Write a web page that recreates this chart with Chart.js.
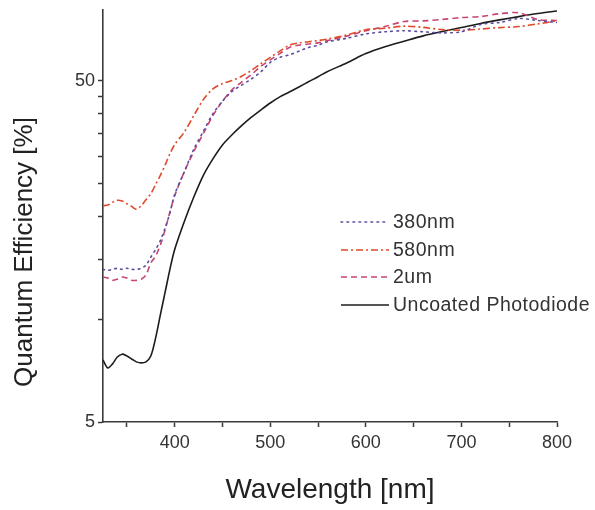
<!DOCTYPE html>
<html>
<head>
<meta charset="utf-8">
<script src="https://cdn.jsdelivr.net/npm/chart.js@4"></script>
<style>
  html, body { margin: 0; padding: 0; background: #fff; }
  #wrap { width: 595px; height: 510px; }
</style>
</head>
<body>
<div id="wrap"><canvas id="qeChart" width="595" height="510"></canvas></div>
<script>
// Wavelength grid [nm]
const wavelengths = [325, 330, 335, 340, 345, 350, 355, 360, 365, 370, 375, 380, 385, 390, 395, 400,
  410, 420, 430, 440, 450, 460, 470, 480, 490, 500, 510, 520, 530, 540, 550, 560,
  580, 600, 620, 640, 660, 680, 700, 720, 740, 760, 780, 800]

// Quantum efficiency [%] per coating
const qe380nm = [14.0, 13.9, 14.0, 14.1, 14.0, 14.1, 14.0, 14.0, 14.1, 14.4, 15.2, 16.0, 17.0, 18.5, 20.5, 23.2,
  27.0, 31.5, 35.5, 40.0, 43.5, 46.5, 48.5, 50.5, 53.0, 56.5, 58.5, 59.5, 61.0, 62.5, 63.5, 65.0,
  66.5, 68.5, 69.5, 70.0, 69.5, 69.0, 69.5, 73.0, 74.0, 76.0, 75.0, 74.0]
const qe580nm = [21.5, 21.6, 22.0, 22.3, 22.2, 21.8, 21.4, 21.0, 21.5, 22.4, 23.3, 24.8, 26.4, 28.3, 30.5, 32.5,
  35.3, 39.5, 44.0, 47.3, 49.0, 50.0, 51.5, 53.5, 56.0, 58.5, 61.0, 63.5, 64.5, 65.0, 65.5, 66.2,
  68.0, 70.5, 71.2, 72.2, 71.6, 70.5, 70.2, 70.8, 71.5, 72.0, 73.3, 74.8]
const qe2um = [13.3, 13.2, 13.0, 13.1, 13.3, 13.2, 13.0, 13.0, 13.1, 13.5, 14.6, 15.3, 16.5, 18.3, 20.6, 23.0,
  27.0, 31.0, 35.0, 39.5, 43.5, 47.0, 49.5, 52.0, 55.0, 57.5, 60.0, 62.5, 63.5, 64.0, 64.5, 65.5,
  67.5, 70.0, 72.0, 74.5, 74.8, 75.5, 76.5, 77.0, 78.5, 79.0, 75.5, 75.0]
const qeUncoated = [7.6, 7.2, 7.4, 7.75, 7.9, 7.8, 7.65, 7.5, 7.45, 7.5, 7.8, 8.8, 10.3, 12.0, 14.0, 16.0,
  19.3, 22.8, 26.4, 29.5, 32.4, 34.7, 36.9, 39.0, 41.0, 43.0, 44.8, 46.3, 47.9, 49.6, 51.3, 53.2,
  56.3, 60.0, 62.8, 65.2, 67.6, 69.6, 71.5, 73.5, 75.3, 77.0, 78.6, 80.0]

const seriesNames = ["380nm", "580nm", "2um", "Uncoated Photodiode"]

// Axis ticks
const xTicks = [350, 400, 450, 500, 550, 600, 650, 700, 750, 800]
const xLabelTicks = [400, 500, 600, 700, 800]
const yTicks = [5, 10, 15, 20, 25, 30, 35, 40, 45, 50]
const yLabelTicks = [5, 50]

const FONT = "'Liberation Sans', Arial, sans-serif"
const AXIS_COLOR = "#3a3a3a"

function toPoints(values) {
  return wavelengths.map((w, i) => ({ x: w, y: values[i] }))
}

// Legend drawn inside the plot, to the right
const insideLegend = {
  id: "insideLegend",
  afterDraw(chart) {
    const ctx = chart.ctx
    const rows = [222, 250, 277, 305]
    ctx.save()
    chart.data.datasets.forEach((ds, i) => {
      const y = rows[i]
      ctx.beginPath()
      ctx.setLineDash(ds.borderDash || [])
      ctx.lineCap = ds.borderCapStyle || "butt"
      ctx.strokeStyle = ds.borderColor
      ctx.lineWidth = ds.borderWidth
      ctx.moveTo(341, y)
      ctx.lineTo(389, y)
      ctx.stroke()
      ctx.setLineDash([])
      ctx.fillStyle = "#333"
      ctx.font = "19.5px " + FONT
      ctx.letterSpacing = "0.5px"
      ctx.textBaseline = "middle"
      ctx.textAlign = "left"
      ctx.fillText(ds.label, 393, y + 1)
    })
    ctx.restore()
  },
}

// Y axis title, set a little below the middle of the axis
const yAxisTitle = {
  id: "yAxisTitle",
  afterDraw(chart) {
    const ctx = chart.ctx
    ctx.save()
    ctx.translate(25, 252)
    ctx.rotate(-Math.PI / 2)
    ctx.fillStyle = "#222"
    ctx.font = "26px " + FONT
    ctx.textAlign = "center"
    ctx.textBaseline = "middle"
    ctx.fillText("Quantum Efficiency [%]", 0, 0)
    ctx.restore()
  },
}

new Chart(document.getElementById("qeChart"), {
  type: "line",
  data: {
    datasets: [
      {
        label: seriesNames[0],
        data: toPoints(qe380nm),
        borderColor: "#5b4c9e",
        borderWidth: 1.6,
        borderDash: [1.6, 4.4],
        borderCapStyle: "round",
      },
      {
        label: seriesNames[1],
        data: toPoints(qe580nm),
        borderColor: "#e04a2a",
        borderWidth: 1.6,
        borderDash: [7, 3, 2, 3],
      },
      {
        label: seriesNames[2],
        data: toPoints(qe2um),
        borderColor: "#c84470",
        borderWidth: 1.6,
        borderDash: [6, 4],
      },
      {
        label: seriesNames[3],
        data: toPoints(qeUncoated),
        borderColor: "#1c1c1c",
        borderWidth: 1.6,
      },
    ],
  },
  options: {
    responsive: false,
    animation: false,
    parsing: false,
    elements: {
      point: { radius: 0 },
      line: { tension: 0.3, fill: false },
    },
    layout: { padding: { top: 10, right: 38, left: 0, bottom: 0 } },
    plugins: {
      legend: { display: false },
      tooltip: { enabled: false },
    },
    scales: {
      x: {
        type: "linear",
        min: 325,
        max: 800,
        afterBuildTicks: (scale) => {
          scale.ticks = xTicks.map((v) => ({ value: v }))
        },
        afterFit: (scale) => {
          scale.height = 88
          scale.paddingLeft = 0
          scale.paddingRight = 0
        },
        ticks: {
          autoSkip: false,
          maxRotation: 0,
          padding: 5,
          color: "#333",
          font: { family: FONT, size: 18 },
          callback: (v) => (xLabelTicks.includes(v) ? String(v) : ""),
        },
        grid: {
          drawOnChartArea: false,
          drawTicks: true,
          tickLength: 5,
          tickColor: AXIS_COLOR,
          tickWidth: 1.5,
        },
        border: { display: true, color: AXIS_COLOR, width: 1.6 },
        title: {
          display: true,
          text: "Wavelength [nm]",
          color: "#222",
          font: { family: FONT, size: 28 },
          padding: { top: 0, bottom: 3 },
        },
      },
      y: {
        type: "logarithmic",
        min: 5,
        max: 80.5,
        afterBuildTicks: (scale) => {
          scale.ticks = yTicks.map((v) => ({ value: v }))
        },
        afterFit: (scale) => {
          scale.width = 103
          scale.paddingTop = 0
          scale.paddingBottom = 0
        },
        ticks: {
          autoSkip: false,
          padding: 3,
          color: "#333",
          font: { family: FONT, size: 18 },
          callback: (v) => (yLabelTicks.includes(v) ? String(v) : ""),
        },
        grid: {
          drawOnChartArea: false,
          drawTicks: true,
          tickLength: 5,
          tickColor: AXIS_COLOR,
          tickWidth: 1.5,
        },
        border: { display: true, color: AXIS_COLOR, width: 1.6 },
        title: { display: false },
      },
    },
  },
  plugins: [insideLegend, yAxisTitle],
})
</script>
</body>
</html>
